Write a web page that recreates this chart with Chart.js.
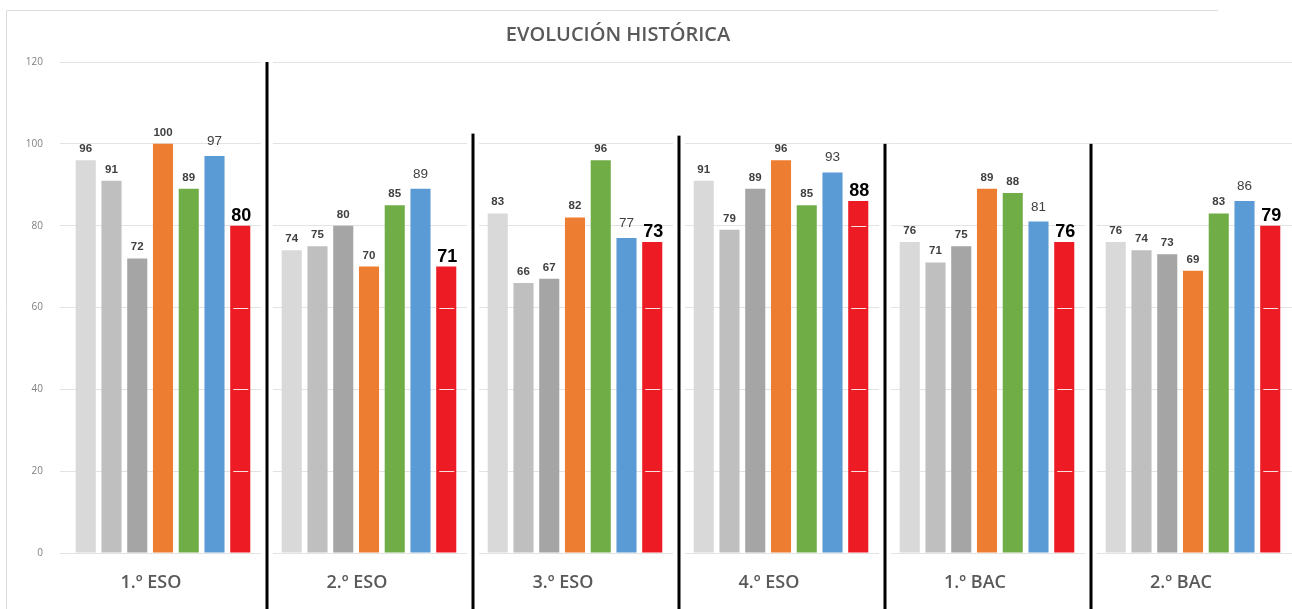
<!DOCTYPE html>
<html>
<head>
<meta charset="utf-8">
<title>Evolución histórica</title>
<script src="https://cdn.jsdelivr.net/npm/chart.js@4.4.1/dist/chart.umd.min.js"></script>
<style>
    html, body { margin: 0; padding: 0; background: #fff; overflow: hidden; }
    #wrap { width: 1296px; height: 609px; position: relative; }
</style>
</head>
<body>
<div id="wrap"><canvas id="historico"></canvas></div>
<script>
// Datos del gráfico
const categories = ['1.º ESO', '2.º ESO', '3.º ESO', '4.º ESO', '1.º BAC', '2.º BAC'];
const seriesNames = ['Curso 1', 'Curso 2', 'Curso 3', 'Curso 4', 'Curso 5', 'Curso 6', 'Actual'];
const serie1 = [96, 74, 83, 91, 76, 76];
const serie2 = [91, 75, 66, 79, 71, 74];
const serie3 = [72, 80, 67, 89, 75, 73];
const serie4 = [100, 70, 82, 96, 89, 69];
const serie5 = [89, 85, 96, 85, 88, 83];
const serie6 = [97, 89, 77, 93, 81, 86];
// la serie roja: altura dibujada y texto rotulado encima
const serieActual = [80, 70, 76, 86, 76, 80];
const etiquetasActual = ['80', '71', '73', '88', '76', '79'];
const yTicks = [0, 20, 40, 60, 80, 100, 120];

const colores = ['#d9d9d9', '#bfbfbf', '#a5a5a5', '#ed7d31', '#70ad47', '#5b9bd5', '#ed1c24'];
const valores = [serie1, serie2, serie3, serie4, serie5, serie6, serieActual];

// lineas negras que separan los cursos (arranque en unidades del eje Y)
const separadorInicio = [120, 102.5, 102, 100, 100];

const decoracion = {
    id: 'decoracion',
    beforeDraw: function (chart) {
        const ctx = chart.ctx;
        ctx.save();
        ctx.fillStyle = '#ffffff';
        ctx.fillRect(0, 0, chart.width, chart.height);
        // marco gris claro
        ctx.strokeStyle = '#dcdcdc';
        ctx.lineWidth = 1;
        ctx.beginPath();
        ctx.moveTo(6.5, chart.height);
        ctx.lineTo(6.5, 10.5);
        ctx.lineTo(1218, 10.5);
        ctx.stroke();
        // titulo
        ctx.fillStyle = '#595959';
        ctx.font = '600 20px "Open Sans"';
        ctx.textAlign = 'center';
        ctx.textBaseline = 'middle';
        ctx.fillText('EVOLUCIÓN HISTÓRICA', 618, 35);
        ctx.restore();
    },
    afterDatasetsDraw: function (chart) {
        const ctx = chart.ctx;
        const xs = chart.scales.x;
        const ys = chart.scales.y;
        ctx.save();

        // rayas blancas sobre las barras rojas a la altura de la rejilla
        const metaRoja = chart.getDatasetMeta(6);
        ctx.strokeStyle = 'rgba(255,255,255,0.85)';
        ctx.lineWidth = 1;
        metaRoja.data.forEach(function (bar, i) {
            yTicks.forEach(function (t) {
                if (t > 0 && t < serieActual[i]) {
                    const yy = Math.round(ys.getPixelForValue(t)) + 0.5;
                    ctx.beginPath();
                    ctx.moveTo(bar.x - bar.width / 2 + 3, yy);
                    ctx.lineTo(bar.x + bar.width / 2 - 2, yy);
                    ctx.stroke();
                }
            });
        });

        // separadores
        for (let i = 0; i < categories.length - 1; i++) {
            const sx = (xs.getPixelForValue(i) + xs.getPixelForValue(i + 1)) / 2 + 1;
            const top = ys.getPixelForValue(separadorInicio[i]);
            ctx.fillStyle = '#ffffff';
            ctx.fillRect(sx - 6, top, 12, chart.height - top);
            ctx.fillStyle = '#000000';
            ctx.fillRect(sx - 1.5, top, 3, chart.height - top);
        }

        // etiquetas de valor
        ctx.textAlign = 'center';
        ctx.textBaseline = 'alphabetic';
        for (let d = 0; d < valores.length; d++) {
            const meta = chart.getDatasetMeta(d);
            meta.data.forEach(function (bar, i) {
                let texto = String(valores[d][i]);
                if (d === 6) {
                    texto = etiquetasActual[i];
                    ctx.font = 'bold 18px "Liberation Sans"';
                    ctx.fillStyle = '#000000';
                    ctx.fillText(texto, bar.x + 1, bar.y - 5);
                } else if (d === 5) {
                    ctx.font = '13.5px "Liberation Sans"';
                    ctx.fillStyle = '#404040';
                    ctx.fillText(texto, bar.x, bar.y - 11);
                } else {
                    ctx.font = 'bold 11.5px "Liberation Sans"';
                    ctx.fillStyle = '#404040';
                    ctx.fillText(texto, bar.x, bar.y - 8);
                }
            });
        }
        ctx.restore();
    }
};

const ctx = document.getElementById('historico').getContext('2d');
const grafico = new Chart(ctx, {
    type: 'bar',
    data: {
        labels: categories,
        datasets: valores.map(function (serie, i) {
            return {
                label: seriesNames[i],
                data: serie,
                backgroundColor: colores[i],
                borderWidth: 0,
                barPercentage: 0.78,
                categoryPercentage: 0.875
            };
        })
    },
    options: {
        responsive: true,
        maintainAspectRatio: false,
        animation: false,
        layout: { padding: { top: 62, left: 0, right: 0, bottom: 0 } },
        plugins: {
            legend: { display: false },
            title: { display: false },
            tooltip: { enabled: false }
        },
        scales: {
            x: {
                grid: { display: false },
                border: { display: false },
                ticks: {
                    color: '#595959',
                    font: { family: 'Open Sans', size: 18, weight: '600' },
                    padding: 11,
                    labelOffset: -12,
                    maxRotation: 0
                },
                afterFit: function (scale) { scale.height = 56; }
            },
            y: {
                min: 0,
                max: 120,
                border: { display: false },
                grid: { color: '#e3e3e3', drawTicks: false },
                ticks: {
                    stepSize: 20,
                    color: '#7f7f7f',
                    font: { family: 'Open Sans', size: 10 },
                    padding: 17
                },
                afterFit: function (scale) { scale.width = 60; }
            }
        }
    },
    plugins: [decoracion]
});
</script>
</body>
</html>
